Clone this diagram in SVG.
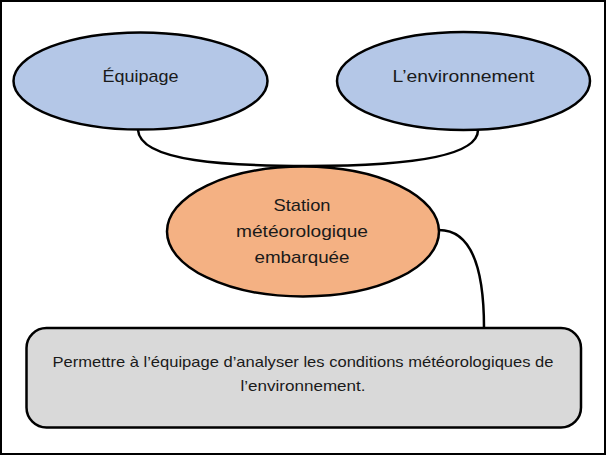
<svg xmlns="http://www.w3.org/2000/svg" width="606" height="455" viewBox="0 0 606 455">
<style>
.n{stroke:#000;stroke-width:2.5}
.c{fill:none;stroke:#000;stroke-width:2.5}
text{font-family:"Liberation Sans","Noto Sans",sans-serif;fill:#1a1a1a;text-anchor:middle}
.t{font-size:17px}
.s{font-size:15px}
</style>
<rect x="1" y="1" width="604" height="453" fill="#fff" stroke="#000" stroke-width="2"/>
<g id="connectors">
<path class="c" d="M138,130 C140,162 230,166 308,166 C390,166 478,160 478,130"/>
<path class="c" d="M439,230 C470,230 484,265 484,328"/>
</g>
<g id="equipage">
<ellipse class="n" cx="140.5" cy="81" rx="127" ry="48.5" fill="#b4c7e7"/>
<text class="t" x="140.5" y="82" textLength="76" lengthAdjust="spacingAndGlyphs">Équipage</text>
</g>
<g id="environnement">
<ellipse class="n" cx="463.5" cy="81" rx="126.5" ry="49" fill="#b4c7e7"/>
<text class="t" x="463.5" y="82" textLength="142" lengthAdjust="spacingAndGlyphs">L’environnement</text>
</g>
<g id="station">
<ellipse class="n" cx="303" cy="231.5" rx="136" ry="65" fill="#f4b183"/>
<text class="t" x="302" y="211" textLength="57" lengthAdjust="spacingAndGlyphs">Station</text>
<text class="t" x="302" y="237" textLength="132" lengthAdjust="spacingAndGlyphs">météorologique</text>
<text class="t" x="302" y="263" textLength="95" lengthAdjust="spacingAndGlyphs">embarquée</text>
</g>
<g id="objectif">
<rect class="n" x="26.5" y="328" width="554.5" height="99.5" rx="20" fill="#d9d9d9"/>
<text class="s" x="303" y="367" textLength="501" lengthAdjust="spacingAndGlyphs">Permettre à l’équipage d’analyser les conditions météorologiques de</text>
<text class="s" x="303" y="391" textLength="125" lengthAdjust="spacingAndGlyphs">l’environnement.</text>
</g>
</svg>
